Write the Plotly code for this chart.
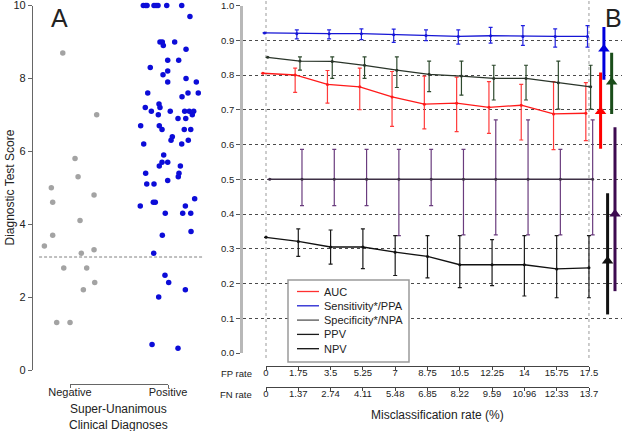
import plotly.graph_objects as go

W, H = 622, 431
FONT = "Liberation Sans, Arial, sans-serif"

# ---------------- Panel A data ----------------
neg_scores = [8.7, 7.0, 5.8, 5.3, 5.0, 4.8, 4.6, 4.1, 3.7, 3.4, 3.2, 3.3, 2.8, 2.8, 2.4, 2.2, 1.3, 1.3]
neg_jitter = [-0.074, 0.272, 0.051, 0.082, -0.191, 0.245, -0.177, 0.102, -0.177, -0.262, 0.115, 0.245,
              -0.064, 0.170, 0.252, 0.136, -0.136, 0.0]
pos_scores = [10, 10, 10, 10, 10, 10, 10, 10, 9.7, 9.0, 9.0, 8.9, 9.0, 8.8, 8.5, 8.5, 8.3, 8.2, 8.1, 8.0,
              7.9, 7.9, 7.6, 7.6, 7.6, 7.5, 7.3, 7.2, 7.2, 7.1, 7.1, 7.1, 7.1, 7.1, 7.0, 7.0, 6.9, 6.9,
              6.7, 6.7, 6.6, 6.6, 6.6, 6.4, 6.3, 6.3, 6.2, 6.2, 5.9, 5.7, 5.7, 5.6, 5.6, 5.4, 5.4, 5.3,
              5.2, 5.1, 5.1, 4.7, 4.6, 4.6, 4.5, 4.5, 4.3, 4.3, 4.3, 3.7, 3.8, 3.2, 2.6, 2.4, 2.2, 2.0,
              0.7, 0.6]
pos_jitter = [-0.252, -0.228, -0.214, -0.143, -0.122, -0.102, -0.013, 0.140, 0.224, -0.082, -0.058, -0.048,
              0.068, 0.184, -0.003, 0.109, -0.181, -0.003, -0.051, 0.184, -0.003, 0.289, -0.207, 0.204,
              0.309, 0.143, -0.092, -0.082, -0.232, -0.170, 0.023, 0.170, 0.217, 0.262, -0.099, 0.248,
              0.102, 0.181, -0.279, -0.089, -0.061, 0.166, 0.232, 0.044, 0.031, 0.207, -0.248, 0.140,
              -0.044, -0.061, -0.003, -0.089, 0.126, -0.228, 0.112, 0.105, -0.003, -0.217, -0.143, 0.272,
              -0.150, -0.130, -0.283, 0.177, -0.028, 0.150, 0.232, -0.058, 0.235, -0.146, -0.031, 0.007,
              0.177, -0.095, -0.163, 0.102]
categories = ["Negative", "Positive"]
threshold = 3.1

# ---------------- Panel B data ----------------
fp_rate = [0, 1.75, 3.5, 5.25, 7, 8.75, 10.5, 12.25, 14, 15.75, 17.5]
fp_labels = ["0", "1.75", "3.5", "5.25", "7", "8.75", "10.5", "12.25", "14", "15.75", "17.5"]
fn_rate = [0, 1.37, 2.74, 4.11, 5.48, 6.85, 8.22, 9.59, 10.96, 12.33, 13.7]
fn_labels = ["0", "1.37", "2.74", "4.11", "5.48", "6.85", "8.22", "9.59", "10.96", "12.33", "13.7"]

auc_mean = [0.805, 0.800, 0.773, 0.766, 0.737, 0.716, 0.719, 0.707, 0.713, 0.688, 0.690]
auc_lo = [None, 0.750, 0.719, 0.700, 0.652, 0.645, 0.637, 0.632, 0.613, 0.585, 0.611]
auc_hi = [None, 0.820, 0.813, 0.820, 0.810, 0.797, 0.794, 0.781, 0.773, 0.781, 0.778]

sens_mean = [0.921, 0.919, 0.919, 0.919, 0.916, 0.914, 0.911, 0.913, 0.911, 0.911, 0.911]
sens_lo = [None, 0.904, 0.904, 0.902, 0.894, 0.899, 0.889, 0.892, 0.885, 0.880, 0.880]
sens_hi = [None, 0.930, 0.930, 0.933, 0.932, 0.930, 0.930, 0.937, 0.942, 0.933, 0.942]

spec_mean = [0.851, 0.840, 0.839, 0.828, 0.814, 0.802, 0.797, 0.790, 0.790, 0.778, 0.766]
spec_lo = [None, 0.814, 0.790, 0.790, 0.764, 0.752, 0.742, 0.728, 0.728, 0.702, 0.702]
spec_hi = [None, 0.852, 0.852, 0.852, 0.852, 0.840, 0.840, 0.828, 0.828, 0.840, 0.828]

ppv_mean = [0.500, 0.500, 0.500, 0.500, 0.500, 0.500, 0.500, 0.500, 0.500, 0.500, 0.500]
ppv_lo = [None, 0.424, 0.424, 0.424, 0.338, 0.424, 0.340, 0.340, 0.340, 0.340, 0.340]
ppv_hi = [None, 0.586, 0.586, 0.586, 0.586, 0.586, 0.586, 0.671, 0.671, 0.586, 0.671]

npv_mean = [0.333, 0.321, 0.305, 0.305, 0.290, 0.278, 0.254, 0.254, 0.254, 0.242, 0.245]
npv_lo = [None, 0.278, 0.256, 0.243, 0.223, 0.216, 0.188, 0.194, 0.164, 0.159, 0.159]
npv_hi = [None, 0.357, 0.354, 0.357, 0.338, 0.338, 0.338, 0.326, 0.338, 0.338, 0.338]

# reference estimates drawn at the right edge (order: AUC, Sens, NPV, Spec, PPV)
ref_names = ["AUC", "Sensitivity*/PPA", "NPV", "Specificity*/NPA", "PPV"]
ref_value = [0.695, 0.875, 0.265, 0.780, 0.400]
ref_lo = [0.588, 0.786, 0.111, 0.688, 0.178]
ref_hi = [0.807, 0.938, 0.460, 0.864, 0.650]


def px_x(p):
    return p / W


def px_y(p):
    return 1 - p / H


def err(mean, lo, hi):
    up = [None if h is None else h - m for m, h in zip(mean, hi)]
    dn = [None if l is None else m - l for m, l in zip(mean, lo)]
    return up, dn


fig = go.Figure()

# ---------- Panel A ----------
fig.add_trace(go.Scatter(
    x=[0 + j for j in neg_jitter], y=neg_scores, mode="markers", name="Negative",
    marker=dict(color="#a3a3a3", size=5.5), xaxis="x", yaxis="y",
    showlegend=False, cliponaxis=False, hoverinfo="y"))
fig.add_trace(go.Scatter(
    x=[1 + j for j in pos_jitter], y=pos_scores, mode="markers", name="Positive",
    marker=dict(color="#0c0cd8", size=5.5), xaxis="x", yaxis="y",
    showlegend=False, cliponaxis=False, hoverinfo="y"))

# ---------- Panel B ----------
series = [
    ("AUC", auc_mean, auc_lo, auc_hi, "#ff1a1a", "#ff3a3a", -0.17, "#ff3030"),
    ("Sensitivity*/PPA", sens_mean, sens_lo, sens_hi, "#1515d5", "#2020e0", -0.08, "#2020d0"),
    ("Specificity*/NPA", spec_mean, spec_lo, spec_hi, "#2a352a", "#2e4a2e", 0.09, "#555555"),
    ("PPV", ppv_mean, ppv_lo, ppv_hi, "#3d3045", "#6a3c7e", 0.20, "#1a1a1a"),
    ("NPV", npv_mean, npv_lo, npv_hi, "#111111", "#1a1a1a", 0.0, "#111111"),
]
for name, m, lo, hi, lc, ec, off, _ in series:
    up, dn = err(m, lo, hi)
    fig.add_trace(go.Scatter(
        x=[v + off for v in fp_rate], y=m, mode="lines+markers", name=name,
        line=dict(color=lc, width=1.3), marker=dict(color=lc, size=3),
        error_y=dict(type="data", symmetric=False, array=up, arrayminus=dn,
                     color=ec, thickness=1.2, width=2),
        xaxis="x3", yaxis="y2", cliponaxis=False, showlegend=False))

ref_colors = ["#ff0000", "#0000dd", "#111111", "#1a4d1a", "#3d0a50"]
ref_x = [18.13, 18.31, 18.51, 18.73, 18.91]
for nm, xv, v, lo, hi, c in zip(ref_names, ref_x, ref_value, ref_lo, ref_hi, ref_colors):
    fig.add_trace(go.Scatter(
        x=[xv], y=[v], mode="markers", name=nm, showlegend=False,
        marker=dict(symbol="triangle-up", size=10, color=c),
        error_y=dict(type="data", symmetric=False, array=[hi - v], arrayminus=[v - lo],
                     color=c, thickness=3, width=0),
        xaxis="x3", yaxis="y2", cliponaxis=False))

# dummy traces so the free-standing axes render
for xa in ["x2", "x4", "x5"]:
    fig.add_trace(go.Scatter(x=[0], y=[0], mode="markers", marker=dict(opacity=0),
                             xaxis=xa, yaxis="y3", showlegend=False, hoverinfo="skip"))

axis_font = dict(family=FONT, size=9.5, color="#222")

fig.update_layout(
    width=W, height=H, margin=dict(l=0, r=0, t=0, b=0, pad=0, autoexpand=False),
    paper_bgcolor="white", plot_bgcolor="rgba(0,0,0,0)",
    font=dict(family=FONT, color="#222"),
    showlegend=False,
    xaxis=dict(domain=[px_x(33), px_x(207)], range=[-0.378, 1.398], anchor="y",
               showline=False, showgrid=False, zeroline=False, showticklabels=False, ticks="",
               automargin=False),
    yaxis=dict(domain=[px_y(370), px_y(5.5)], range=[0, 10], anchor="x",
               tickvals=[0, 2, 4, 6, 8, 10], showline=True, linecolor="#666", linewidth=1.2,
               ticks="outside", ticklen=4, tickcolor="#666", showgrid=False, zeroline=False,
               tickfont=dict(family=FONT, size=11, color="#222"), automargin=False,
               ticklabeloverflow="allow"),
    xaxis2=dict(domain=[px_x(70), px_x(168)], range=[0, 1], anchor="free", position=px_y(384),
                tickvals=[0, 1], ticktext=categories, showline=True, linecolor="#666",
                linewidth=1.2, ticks="outside", ticklen=3, tickcolor="#666", showgrid=False,
                zeroline=False, tickfont=dict(family=FONT, size=11, color="#222"),
                ticklabelstandoff=-5, automargin=False),
    xaxis3=dict(domain=[px_x(243), 1.0], range=[-1.246, 19.29], anchor="y2", visible=False,
                automargin=False),
    yaxis2=dict(domain=[px_y(353), px_y(5.5)], range=[0, 1], anchor="x3",
                tickvals=[i / 10 for i in range(11)], tickformat=".1f",
                showgrid=True, gridcolor="#4a4a4a", griddash="3px,3px", gridwidth=1,
                showline=True, linecolor="#b8b8b8", linewidth=2.6,
                ticks="outside", ticklen=4, tickcolor="#555", zeroline=False,
                tickfont=axis_font, automargin=False, ticklabeloverflow="allow"),
    yaxis3=dict(domain=[0, 0.01], range=[0, 1], visible=False, automargin=False),
    xaxis4=dict(domain=[px_x(266), px_x(589)], range=[0, 17.5], anchor="free",
                position=px_y(366), tickvals=fp_rate, ticktext=fp_labels,
                showline=True, linecolor="#444", linewidth=1, ticks="outside", ticklen=3,
                tickcolor="#444", showgrid=False, zeroline=False, tickfont=axis_font,
                ticklabelstandoff=-5, automargin=False),
    xaxis5=dict(domain=[px_x(266), px_x(589)], range=[0, 13.7], anchor="free",
                position=px_y(387), tickvals=fn_rate, ticktext=fn_labels,
                showline=True, linecolor="#444", linewidth=1, ticks="outside", ticklen=3,
                tickcolor="#444", showgrid=False, zeroline=False, tickfont=axis_font,
                ticklabelstandoff=-5, automargin=False),
)

# shapes: threshold and dotted guide lines
fig.add_shape(type="line", xref="x", yref="y", x0=-0.316, x1=1.357, y0=threshold, y1=threshold,
              line=dict(color="#808080", width=1, dash="3px,2px"))
for xv in [fp_rate[0], fp_rate[-1]]:
    fig.add_shape(type="line", xref="x3", yref="paper", x0=xv, x1=xv, y0=px_y(358), y1=1,
                  line=dict(color="#9a9a9a", width=1, dash="dot"), layer="below")

# legend box (drawn manually to match the compact original spacing)
lg_x0, lg_x1, lg_y0, lg_y1 = 288, 409, 280, 362
fig.add_shape(type="rect", xref="paper", yref="paper",
              x0=px_x(lg_x0), x1=px_x(lg_x1), y0=px_y(lg_y1), y1=px_y(lg_y0),
              fillcolor="white", line=dict(color="#9a9a9a", width=1.5), layer="above")
for k, s in enumerate(series):
    yy = 291.5 + k * 14.3
    fig.add_shape(type="line", xref="paper", yref="paper",
                  x0=px_x(297), x1=px_x(319), y0=px_y(yy), y1=px_y(yy),
                  line=dict(color=s[7], width=1.3), layer="above")
    fig.add_annotation(xref="paper", yref="paper", x=px_x(322), y=px_y(yy), text=s[0],
                       showarrow=False, xanchor="left", yanchor="middle",
                       font=dict(family=FONT, size=11, color="#222"))

ann = [
    dict(text="A", x=px_x(60), y=px_y(17.5), font=dict(size=25)),
    dict(text="B", x=px_x(613), y=px_y(17.5), font=dict(size=25)),
    dict(text="Diagnostic Test Score", x=px_x(9), y=px_y(187.5), textangle=-90, font=dict(size=12)),
    dict(text="Super-Unanimous<br>Clinical Diagnoses", x=px_x(118), y=px_y(417), font=dict(size=12)),
    dict(text="Misclassification rate (%)", x=px_x(437), y=px_y(415), font=dict(size=12)),
    dict(text="FP rate", x=px_x(254), y=px_y(373), xanchor="right", font=dict(size=9.5)),
    dict(text="FN rate", x=px_x(254), y=px_y(394), xanchor="right", font=dict(size=9.5)),
]
for a in ann:
    a.setdefault("xanchor", "center")
    a["font"] = dict(family=FONT, color="#222", **a["font"])
    fig.add_annotation(xref="paper", yref="paper", showarrow=False, yanchor="middle", **a)

fig.write_html("out.html", config={"displayModeBar": False},
               post_script="document.body.style.margin='0px';")
